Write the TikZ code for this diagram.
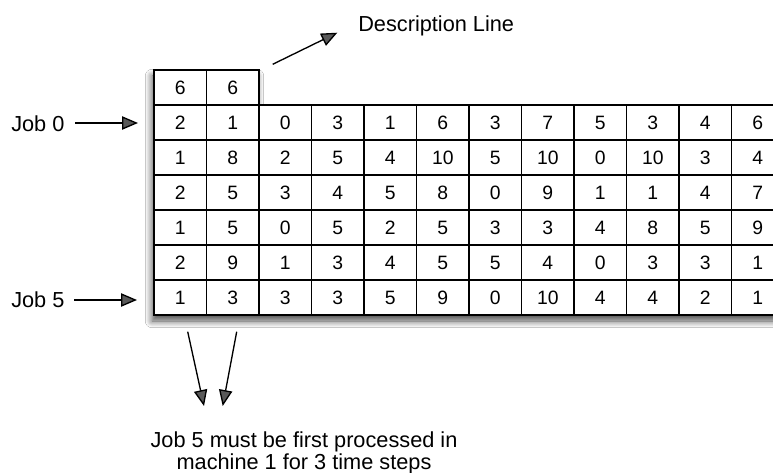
\documentclass[tikz,border=0pt]{standalone}
\usepackage{fontspec}
\setmainfont{Liberation Sans}
\usetikzlibrary{arrows.meta,shadows.blur}
\begin{document}
\begin{tikzpicture}[x=0.75pt,y=-0.75pt,
  gridline/.style={line width=1.1pt, line cap=rect},
  cell/.style={font=\fontsize{14.5}{16}\selectfont, inner sep=0pt},
  lbl/.style={font=\fontsize{16.3}{16.5}\selectfont, inner sep=0pt},
  arr/.style={line width=1pt, -{Triangle[length=12pt,width=10pt]}}]
\clip (0,0) rectangle (773,473);
\fill[white] (0,0) rectangle (773,473);

% table body with its soft drop shadow
\fill[white, blur shadow={shadow xshift=-1.5pt, shadow yshift=-4.5pt,
      shadow blur radius=5pt, shadow blur steps=14, shadow opacity=70}]
  (154,70) -- (259,70) -- (259,105) -- (820,105) -- (820,315) -- (154,315) -- cycle;

% grid lines
\draw[gridline] (154,70) -- (259,70);
\foreach \r in {1,...,7} \draw[gridline] (154,{70+35*\r}) -- (820,{70+35*\r});
\foreach \c in {0,1,2} \draw[gridline] ({154+52.5*\c},70) -- ({154+52.5*\c},315);
\foreach \c in {3,...,12} \draw[gridline] ({154+52.5*\c},105) -- ({154+52.5*\c},315);

% description line
\node[cell] (c-0-0) at (180.25,87.5) {6};
\node[cell] (c-0-1) at (232.75,87.5) {6};

% job rows
\foreach \row [count=\r from 1] in {
  {2,1,0,3,1,6,3,7,5,3,4,6},
  {1,8,2,5,4,10,5,10,0,10,3,4},
  {2,5,3,4,5,8,0,9,1,1,4,7},
  {1,5,0,5,2,5,3,3,4,8,5,9},
  {2,9,1,3,4,5,5,4,0,3,3,1},
  {1,3,3,3,5,9,0,10,4,4,2,1}}
  \foreach \v [count=\c from 0] in \row
    \node[cell] (c-\r-\c) at ({180.25+52.5*\c},{87.5+35*\r}) {\v};

% labels
\node[lbl, anchor=base west] (job0) at (11,131.7) {Job 0};
\node[lbl, anchor=base west] (job5) at (11,307.5) {Job 5};
\node[lbl, anchor=base west] (desc) at (358,31.7) {Description Line};
\node[lbl, align=center, anchor=north] (note) at (304,431.5)
  {Job 5 must be first processed in\\machine 1 for 3 time steps};

% arrows
\coordinate (t0) at (138,123);
\coordinate (t5) at (137,300);
\coordinate (ds) at (272.7,64.3);
\coordinate (de) at (337.3,32.7);
\coordinate (l1s) at (187.7,331.7);
\coordinate (l1e) at (204,406);
\coordinate (l2s) at (236.7,331.7);
\coordinate (l2e) at (222.7,406);

\draw[arr] ([xshift=8pt]job0.east |- t0) -- (t0);
\draw[arr] ([xshift=7pt]job5.east |- t5) -- (t5);
\draw[arr] (ds) -- (de);
\draw[arr] (l1s) -- (l1e);
\draw[arr] (l2s) -- (l2e);
\end{tikzpicture}
\end{document}
